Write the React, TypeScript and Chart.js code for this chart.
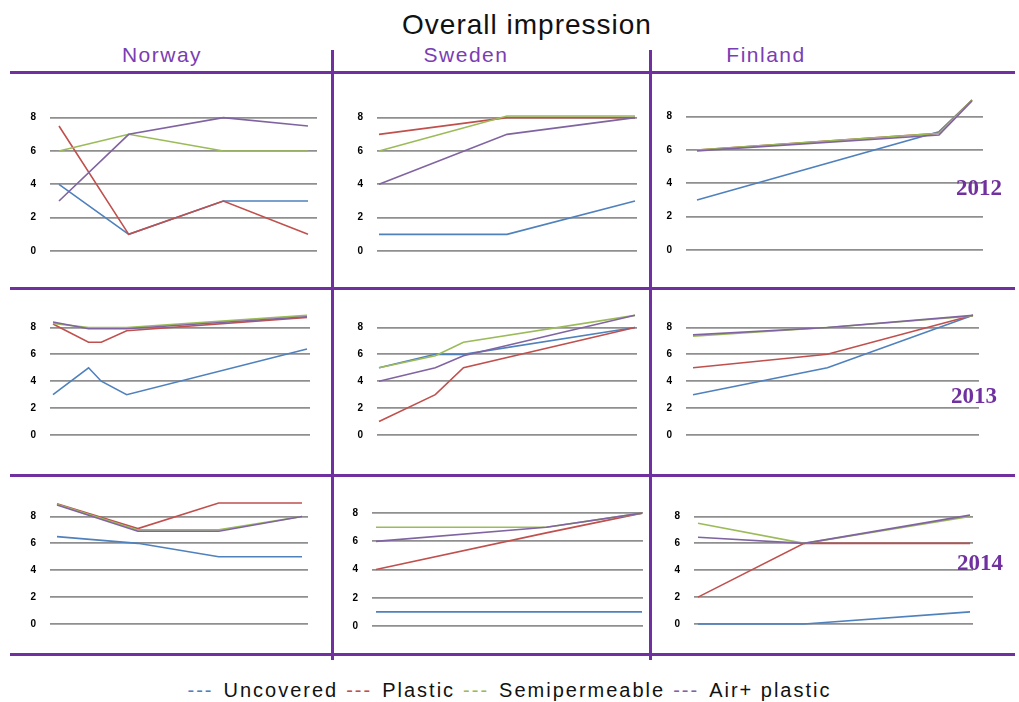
import React, { useEffect, useRef } from 'react';
import { Chart, registerables } from 'chart.js';

Chart.register(...registerables);

const title = 'Overall impression';
const countries = ['Norway', 'Sweden', 'Finland'];
const years = ['2012', '2013', '2014'];
const seriesNames = ['Uncovered', 'Plastic', 'Semipermeable', 'Air+ plastic'];
const seriesColors = ['#4F81BD', '#C0504D', '#9BBB59', '#8064A2'];
const yTicks = [0, 2, 4, 6, 8];

// Assessment days within each season (first assessment = day 0)
const daysNorway2012 = [0, 28, 66, 100];
const daysSweden2012 = [0, 50, 100];
const daysFinland2012 = [0, 88, 100];
const daysNorway2013 = [0, 14, 19, 29, 100];
const daysSweden2013 = [0, 22, 33, 100];
const daysFinland2013 = [0, 48, 100];
const daysNorway2014 = [0, 33, 66, 100];
const daysSweden2014 = [0, 64, 100];
const daysFinland2014 = [0, 39, 100];

// Scores per treatment: uncovered, plastic, semipermeable, air + plastic
const norway2012 = [
  [4, 1, 3, 3],
  [7.5, 1, 3, 1],
  [6, 7, 6, 6],
  [3, 7, 8, 7.5],
];
const sweden2012 = [
  [1, 1, 3],
  [7, 8, 8],
  [6, 8.1, 8.1],
  [4, 7, 8],
];
const finland2012 = [
  [3, 7.1, 9],
  [6, 7, 9],
  [6, 7, 9],
  [5.95, 6.9, 8.95],
];
const norway2013 = [
  [3, 5, 4, 3, 6.4],
  [8.25, 6.9, 6.9, 7.75, 8.75],
  [8.3, 8, 8, 8, 8.9],
  [8.4, 7.9, 7.9, 7.9, 8.8],
];
const sweden2013 = [
  [5, 6, 6, 8],
  [1, 3, 5, 8],
  [5, 5.9, 6.9, 8.9],
  [4, 5, 5.9, 8.9],
];
const finland2013 = [
  [3, 5, 8.9],
  [5, 6, 8.9],
  [7.35, 8, 8.85],
  [7.45, 8, 8.9],
];
const norway2014 = [
  [6.5, 6, 5, 5],
  [8.95, 7.1, 9, 9],
  [8.9, 7, 7, 8],
  [8.85, 6.9, 6.9, 8],
];
const sweden2014 = [
  [1, 1, 1],
  [4, 6.6, 8],
  [7, 7, 8],
  [6, 7, 8],
];
const finland2014 = [
  [0, 0, 0.9],
  [2, 6, 6],
  [7.5, 6, 8],
  [6.45, 6, 8.1],
];

// Row-major order: 2012, 2013, 2014 rows; Norway, Sweden, Finland columns
const panelDays = [
  daysNorway2012, daysSweden2012, daysFinland2012,
  daysNorway2013, daysSweden2013, daysFinland2013,
  daysNorway2014, daysSweden2014, daysFinland2014,
];
const panelValues = [
  norway2012, sweden2012, finland2012,
  norway2013, sweden2013, finland2013,
  norway2014, sweden2014, finland2014,
];

// Plot-area boxes (page pixels) and horizontal insets of the first/last point
type Box = { left: number; right: number; top: number; bottom: number; insL: number; insR: number };
const panelBoxes: Box[] = [
  { left: 50, right: 317, top: 89, bottom: 263, insL: 9, insR: 9 },
  { left: 377, right: 637, top: 89, bottom: 263, insL: 2, insR: 2 },
  { left: 686, right: 983, top: 88, bottom: 262, insL: 11, insR: 11 },
  { left: 50, right: 310, top: 302, bottom: 447, insL: 3, insR: 3 },
  { left: 377, right: 637, top: 302, bottom: 447, insL: 2, insR: 2 },
  { left: 686, right: 979, top: 302, bottom: 447, insL: 7, insR: 6 },
  { left: 50, right: 308, top: 491, bottom: 636, insL: 7, insR: 6 },
  { left: 372, right: 643, top: 487, bottom: 638, insL: 4, insR: 1 },
  { left: 694, right: 973, top: 491, bottom: 636, insL: 4, insR: 3 },
];

const PURPLE = '#7030A0';
const AXIS_W = 40;
const PAD = 8;

function Panel({ days, values, box }: { days: number[]; values: number[][]; box: Box }) {
  const ref = useRef<HTMLCanvasElement>(null);
  const width = box.right - box.left + AXIS_W + PAD;
  const height = box.bottom - box.top + 2 * PAD;

  useEffect(() => {
    if (!ref.current) return;
    const first = days[0];
    const last = days[days.length - 1];
    const span = box.right - box.left - box.insL - box.insR;
    const perPx = (last - first) / span;
    const chart = new Chart(ref.current, {
      type: 'line',
      data: {
        datasets: values.map((series, i) => ({
          label: seriesNames[i],
          data: days.map((d, j) => ({ x: d, y: series[j] })),
          borderColor: seriesColors[i],
          backgroundColor: seriesColors[i],
          borderWidth: 1.6,
          pointRadius: 0,
          tension: 0,
          order: values.length - i,
          clip: false as any,
        })),
      },
      options: {
        responsive: false,
        animation: false,
        devicePixelRatio: 1,
        events: [],
        layout: { padding: { top: PAD, bottom: PAD, right: PAD, left: 0 } },
        plugins: {
          legend: { display: false },
          tooltip: { enabled: false },
        },
        scales: {
          x: {
            type: 'linear',
            display: false,
            min: first - box.insL * perPx,
            max: last + box.insR * perPx,
          },
          y: {
            min: 0,
            max: 9,
            afterBuildTicks: (s: any) => {
              s.ticks = yTicks.map((v) => ({ value: v }));
            },
            afterFit: (s: any) => {
              s.width = AXIS_W;
            },
            grid: { color: '#8f8f8f', lineWidth: 1.8, drawTicks: false },
            border: { display: false },
            ticks: {
              padding: 14,
              color: '#000',
              font: { family: 'Liberation Sans', size: 10, weight: 'bold' },
            },
          },
        },
      },
    } as any);
    return () => chart.destroy();
  }, []);

  return (
    <canvas
      ref={ref}
      width={width}
      height={height}
      style={{ position: 'absolute', left: box.left - AXIS_W, top: box.top - PAD, width, height }}
    />
  );
}

function Text({
  text, cx, baseline, size, color, family, weight, spacing,
}: {
  text: string; cx: number; baseline: number; size: number; color: string;
  family: string; weight?: string | number; spacing?: number;
}) {
  const ascentShift = family.includes('Serif') ? 0.8375 : 0.8465;
  return (
    <div
      style={{
        position: 'absolute',
        left: cx,
        top: baseline - ascentShift * size,
        transform: 'translateX(-50%)',
        fontFamily: family,
        fontSize: size,
        lineHeight: `${size}px`,
        fontWeight: weight ?? 'normal',
        color,
        letterSpacing: spacing ? `${spacing}px` : undefined,
        whiteSpace: 'nowrap',
      }}
    >
      {text}
    </div>
  );
}

const countryCenters = [162, 466, 766];
const yearPositions = [
  { cx: 979, baseline: 195 },
  { cx: 974, baseline: 403 },
  { cx: 980, baseline: 570 },
];
const hLines = [72, 288, 475, 654];
const vLines = [332, 650];

export default function App() {
  return (
    <div style={{ position: 'absolute', left: 0, top: 0, width: 1019, height: 702, background: '#fff', overflow: 'hidden' }}>
      <Text text={title} cx={527} baseline={35} size={28} color="#111" family="Liberation Sans" spacing={1} />
      {countries.map((c, i) => (
        <Text key={c} text={c} cx={countryCenters[i]} baseline={62} size={21} color="#7a3db3" family="Liberation Sans" spacing={1.5} />
      ))}

      {hLines.map((y) => (
        <div key={'h' + y} style={{ position: 'absolute', left: 10, width: 1005, top: y - 1.5, height: 3, background: PURPLE }} />
      ))}
      {vLines.map((x) => (
        <div key={'v' + x} style={{ position: 'absolute', left: x - 1.5, width: 3, top: 50, height: 610, background: PURPLE }} />
      ))}

      {panelBoxes.map((box, i) => (
        <Panel key={i} days={panelDays[i]} values={panelValues[i]} box={box} />
      ))}

      {years.map((y, i) => (
        <Text key={y} text={y} cx={yearPositions[i].cx} baseline={yearPositions[i].baseline} size={23} color={PURPLE} family="Liberation Serif" weight="bold" />
      ))}

      <div
        style={{
          position: 'absolute', left: 0, width: 1019, top: 697 - 0.8465 * 20,
          display: 'flex', justifyContent: 'center', alignItems: 'baseline',
          fontFamily: 'Liberation Sans', fontSize: 20, lineHeight: '20px', letterSpacing: '2px', color: '#111',
          whiteSpace: 'nowrap',
        }}
      >
        {seriesNames.map((name, i) => (
          <span key={name} style={{ display: 'inline-flex', alignItems: 'baseline', marginRight: i < seriesNames.length - 1 ? 8 : 0 }}>
            <span style={{ color: seriesColors[i], marginRight: 10 }}>---</span>
            <span>{name}</span>
          </span>
        ))}
      </div>
    </div>
  );
}
